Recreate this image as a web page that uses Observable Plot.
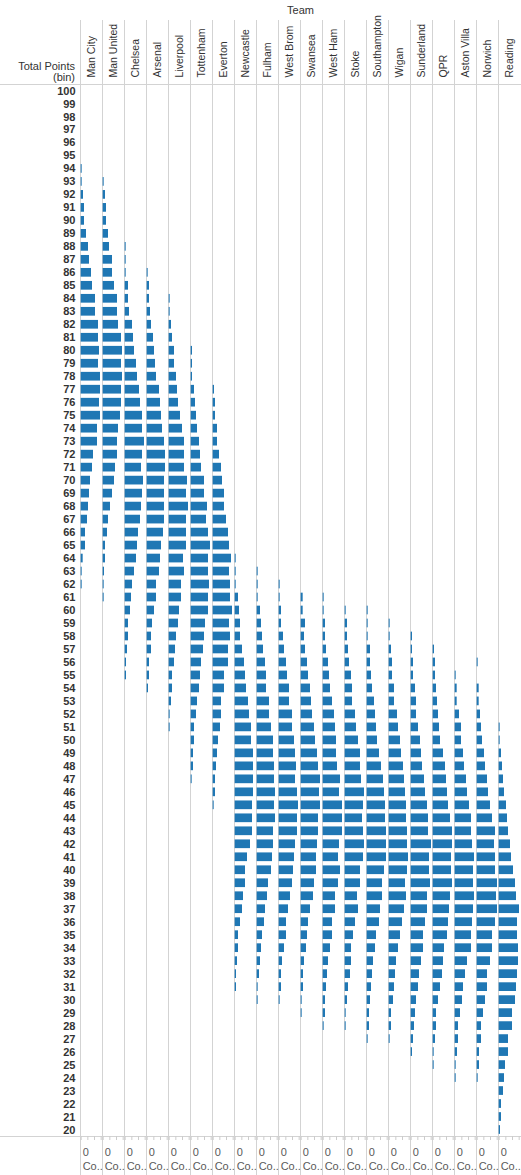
<!DOCTYPE html>
<html>
<head>
<meta charset="utf-8">
<script src="https://cdn.jsdelivr.net/npm/d3@7"></script>
<script src="https://cdn.jsdelivr.net/npm/@observablehq/plot@0.6"></script>
<style>
  html, body { margin: 0; padding: 0; background: #fff; }
  #chart { width: 521px; height: 1175px; }
</style>
</head>
<body>
<div id="chart"></div>
<script>
// Row categories: Total Points (bin), top to bottom
const bins = [100,99,98,97,96,95,94,93,92,91,90,89,88,87,86,85,84,83,82,81,80,
  79,78,77,76,75,74,73,72,71,70,69,68,67,66,65,64,63,62,61,60,
  59,58,57,56,55,54,53,52,51,50,49,48,47,46,45,44,43,42,41,40,
  39,38,37,36,35,34,33,32,31,30,29,28,27,26,25,24,23,22,21,20];

// Column categories: Team
const teams = ["Man City","Man United","Chelsea","Arsenal","Liverpool","Tottenham","Everton",
  "Newcastle","Fulham","West Brom","Swansea","West Ham","Stoke","Southampton","Wigan",
  "Sunderland","QPR","Aston Villa","Norwich","Reading"];

// Highest bin with a bar for each team (counts below run downward one bin at a time)
const topBins = [94,93,88,86,84,80,77,64,63,62,61,61,60,60,59,58,57,55,56,51];

// Counts per bin, from each team's top bin downward
const manCity    = [3,3,7,10,10,16,22,25,31,34,43,43,52,52,55,52,58,58,55,58,49,49,37,34,28,25,22,19,13,13,6,3,3];
const manUnited  = [3,7,10,10,16,19,28,28,34,43,43,46,55,58,55,58,55,55,52,46,43,43,37,34,28,22,16,13,7,7,4,3,3];
const chelsea    = [3,3,3,10,10,13,22,25,28,34,37,43,46,52,52,58,52,49,55,52,49,46,40,37,34,28,22,19,16,10,10,7,4,4];
const arsenal    = [3,7,7,10,13,19,22,25,28,37,40,43,46,52,55,55,52,52,52,52,49,43,40,37,28,28,22,16,13,13,7,7,4];
const liverpool  = [3,3,7,10,16,16,22,25,28,34,40,46,46,46,55,52,58,52,52,52,43,46,37,37,31,28,22,19,16,10,10,7,3,3];
const tottenham  = [4,4,4,10,13,16,19,25,28,31,40,40,49,46,52,58,52,52,55,52,52,43,40,37,31,28,25,19,16,10,10,7,7,3];
const everton    = [4,7,7,13,13,19,25,28,34,34,40,46,49,55,49,52,52,58,49,52,46,46,34,34,25,25,22,16,13,10,7,7,3];
const newcastle  = [3,3,3,10,13,16,16,22,28,31,34,40,43,49,49,55,55,55,55,52,52,52,46,37,31,31,25,22,16,10,10,7,4,4];
const fulham     = [3,3,3,10,13,16,19,25,28,28,37,37,43,49,49,52,52,55,52,55,49,49,46,43,34,31,25,22,16,13,10,7,3,3];
const westBrom   = [3,3,7,7,13,16,22,25,31,31,40,40,46,49,52,49,55,58,55,55,49,46,43,40,34,28,22,22,16,10,7,7,3];
const swansea    = [6,6,13,10,13,19,22,28,31,34,40,43,49,52,58,55,58,52,52,49,46,46,40,37,28,22,19,16,10,7,7,3,3];
const westHam    = [3,3,7,7,10,16,19,22,28,34,37,40,40,43,52,49,58,58,58,49,46,52,46,37,37,28,28,22,16,13,10,7,7,3];
const stoke      = [3,7,7,10,13,19,22,22,31,34,40,46,46,49,58,55,52,55,58,55,46,46,37,40,31,25,19,19,16,10,7,3,3];
const southampton= [3,3,3,10,10,13,16,22,25,28,31,37,43,49,52,55,55,58,58,58,52,46,46,40,37,28,25,19,16,13,10,7,7,3];
const wigan      = [3,3,7,10,10,16,16,25,28,34,37,43,46,49,52,52,55,55,58,55,49,52,46,40,34,28,22,19,16,13,7,7,3];
const sunderland = [4,4,7,7,13,16,16,22,28,31,34,40,43,49,52,52,61,55,55,58,49,49,43,37,37,31,25,22,16,13,10,7,4];
const qpr        = [4,7,7,10,13,16,19,22,31,37,40,43,46,52,58,58,55,55,58,52,49,46,43,34,31,28,22,16,10,10,7,3,3];
const astonVilla = [3,6,6,13,19,19,25,28,34,37,43,49,49,52,58,55,55,58,55,52,49,49,37,31,25,22,16,10,10,7,3,3];
const norwich    = [3,0,6,6,10,13,16,22,25,31,34,40,46,55,52,55,55,61,58,61,55,46,46,40,31,31,25,19,13,13,7,7,3];
const reading    = [3,3,7,10,13,16,22,25,28,34,37,43,49,52,61,55,55,58,58,55,52,49,40,40,28,28,19,16,13,7,7,4];

const countsByTeam = [manCity, manUnited, chelsea, arsenal, liverpool, tottenham, everton,
  newcastle, fulham, westBrom, swansea, westHam, stoke, southampton, wigan,
  sunderland, qpr, astonVilla, norwich, reading];

// Bottom axis tick values
const xTicks = [0, 20, 40, 60];

const rows = [];
teams.forEach((team, i) => {
  countsByTeam[i].forEach((c, j) => {
    if (c > 0) rows.push({team, bin: topBins[i] - j, count: c});
  });
});

const W = 521, H = 1175;
const barColor = "#1f77b4";
const lineColor = "#d3d3d3";
const textColor = "#333333";

const plot = Plot.plot({
  width: W,
  height: H,
  marginLeft: 80,
  marginRight: 1,
  marginTop: 84,
  marginBottom: 39,
  style: {fontFamily: "'Liberation Sans', Arial, sans-serif", fontSize: "11px", color: textColor, background: "#fff"},
  fx: {domain: teams, paddingInner: 0, paddingOuter: 0, label: null},
  y: {domain: bins, type: "band", paddingInner: 0.33, paddingOuter: 0.165, label: null},
  x: {domain: [-2, 64], label: null},
  marks: [
    Plot.barX(rows, {fx: "team", y: "bin", x1: 0, x2: "count", fill: barColor}),
    Plot.axisY({ticks: bins, tickSize: 0, tickPadding: 5, fontWeight: "bold", fontSize: 11, label: null, color: textColor}),
    Plot.axisFx({anchor: "top", tickSize: 0, tickPadding: 7, tickRotate: -90, textAnchor: "start", lineAnchor: "middle", fontSize: 10.5, label: null, color: textColor}),
    Plot.axisX({anchor: "bottom", ticks: xTicks, tickSize: 4, tickFormat: () => "", label: null, color: "#cccccc"}),
    Plot.axisX({anchor: "bottom", ticks: [0], tickSize: 0, tickPadding: 9.5, textAnchor: "start", dx: 1.5, lineHeight: 1.27,
      tickFormat: () => "0\nCo..", fontSize: 11, label: null, color: "#5a5a5a"})
  ]
});

document.getElementById("chart").appendChild(plot);

// Table grid lines and header texts
const svg = d3.select(plot);
const fxScale = plot.scale("fx");
const grid = svg.insert("g", "g").attr("stroke", lineColor).attr("stroke-width", 1);
teams.forEach(t => {
  const x = Math.round(fxScale.apply(t)) + 0.5;
  grid.append("line").attr("x1", x).attr("x2", x).attr("y1", 20).attr("y2", H);
});
grid.append("line").attr("x1", 0).attr("x2", W).attr("y1", 84.5).attr("y2", 84.5);
grid.append("line").attr("x1", 0).attr("x2", W).attr("y1", 1136.5).attr("y2", 1136.5);

const hdr = svg.append("g").attr("fill", textColor).attr("font-size", 11);
hdr.append("text").attr("x", 300.5).attr("y", 14).attr("text-anchor", "middle").text("Team");
hdr.append("text").attr("x", 75).attr("y", 69.5).attr("text-anchor", "end").text("Total Points");
hdr.append("text").attr("x", 75).attr("y", 81).attr("text-anchor", "end").text("(bin)");
</script>
</body>
</html>
